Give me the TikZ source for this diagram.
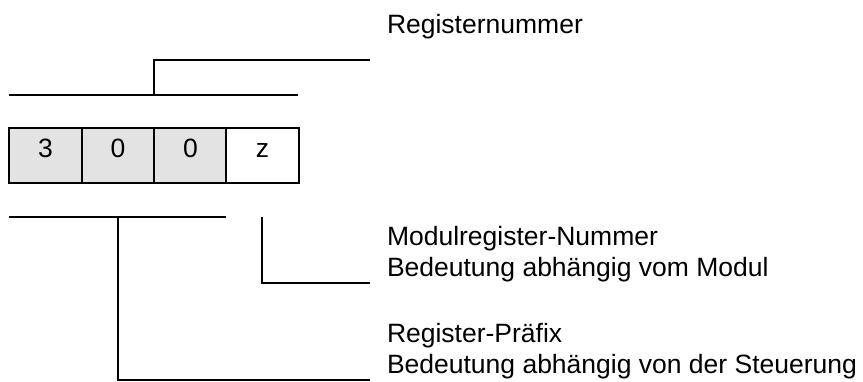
\documentclass[tikz,border=0pt]{standalone}
\usepackage{fontspec}
\setmainfont{Liberation Sans}
\definecolor{cellgray}{RGB}{227,227,227}
\begin{document}
\begin{tikzpicture}[x=1pt,y=-1pt,
  line width=2pt,
  cell/.style={draw=black, line width=2pt, minimum width=72.5pt, minimum height=55.5pt, inner sep=0pt, outer sep=0pt},
  digit/.style={anchor=base, inner sep=0pt, font=\fontsize{26.5}{31}\selectfont},
  lbl/.style={anchor=base west, inner sep=0pt, font=\fontsize{26.5}{31}\selectfont},
  brk/.style={draw=black, line width=2pt}]
\useasboundingbox (0,0) rectangle (863,381);
% register cells
\node[cell, fill=cellgray] (b1) at (45.5,155.5) {};
\node[cell, fill=cellgray] (b2) at (118,155.5) {};
\node[cell, fill=cellgray] (b3) at (190.5,155.5) {};
\node[cell, fill=white]    (b4) at (262.5,155.5) {};
\node[digit] (t1) at (45.5,157) {3};
\node[digit] (t2) at (118,157) {0};
\node[digit] (t3) at (190.5,157) {0};
\node[digit] (t4) at (262.5,157) {z};
% labels
\node[lbl] (l1) at (386,33) {Registernummer};
\node[lbl] (l2a) at (386,245) {Modulregister-Nummer};
\node[lbl] (l2b) at (386,276) {Bedeutung abhängig vom Modul};
\node[lbl] (l3a) at (386,342) {Register-Präfix};
\node[lbl] (l3b) at (386,373) {Bedeutung abhängig von der Steuerung};
% bracket coordinates
\coordinate (u1) at (9,95);
\coordinate (u2) at (298,95);
\coordinate (um) at (154,95);
\coordinate (ut) at (154,60);
\coordinate (ue) at (370,60);
\coordinate (m1) at (262,216.5);
\coordinate (m2) at (262,282.5);
\coordinate (me) at (370,282.5);
\coordinate (p1) at (9,216.5);
\coordinate (p2) at (226,216.5);
\coordinate (pm) at (118,216.5);
\coordinate (pb) at (118,380);
\coordinate (pe) at (370,380);
% brackets
\draw[brk] (u1) -- (u2);
\draw[brk] (um) -- (ut) -- (ue);
\draw[brk] (m1) -- (m2) -- (me);
\draw[brk] (p1) -- (p2);
\draw[brk] (pm) -- (pb) -- (pe);
\end{tikzpicture}
\end{document}
